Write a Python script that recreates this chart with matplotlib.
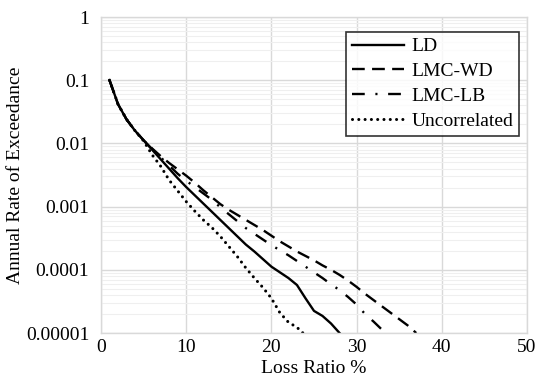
import matplotlib.pyplot as plt
from matplotlib.ticker import FixedLocator, FixedFormatter, LogLocator, NullFormatter
import numpy as np

plt.rcParams['font.family'] = ['Liberation Serif', 'DejaVu Serif']

# loss ratio (%) and log10 of annual rate of exceedance
x_ld = [1, 2, 3, 4, 5, 6, 7, 8, 9, 10, 11, 12, 13, 14, 15, 16, 17, 18, 19, 20,
        21, 22, 23, 24, 25, 26, 27, 28]
log_ld = [-1.0, -1.38, -1.62, -1.80, -1.95, -2.10, -2.25, -2.40, -2.55, -2.69,
          -2.82, -2.95, -3.08, -3.21, -3.34, -3.47, -3.60, -3.71, -3.83, -3.95,
          -4.04, -4.13, -4.24, -4.45, -4.65, -4.73, -4.85, -5.0]

x_wd = list(range(1, 38))
log_wd = [-1.0, -1.38, -1.62, -1.80, -1.95, -2.08, -2.20, -2.31, -2.41, -2.51,
          -2.62, -2.74, -2.85, -2.96, -3.05, -3.13, -3.21, -3.29, -3.37, -3.46,
          -3.55, -3.63, -3.71, -3.78, -3.85, -3.93, -4.0, -4.08, -4.17, -4.27,
          -4.38, -4.48, -4.58, -4.68, -4.78, -4.88, -5.0]

x_lb = list(range(1, 34)) + [33.5]
log_lb = [-1.0, -1.38, -1.62, -1.80, -1.95, -2.09, -2.22, -2.35, -2.48, -2.59,
          -2.69, -2.79, -2.89, -3.01, -3.12, -3.23, -3.34, -3.43, -3.52, -3.61,
          -3.69, -3.77, -3.86, -3.95, -4.04, -4.13, -4.23, -4.32, -4.43, -4.55,
          -4.70, -4.82, -4.95, -5.0]

x_un = list(range(1, 24)) + [23.7]
log_un = [-1.0, -1.38, -1.62, -1.80, -1.96, -2.18, -2.36, -2.58, -2.75, -2.92,
          -3.07, -3.21, -3.33, -3.47, -3.63, -3.79, -3.97, -4.13, -4.28, -4.45,
          -4.68, -4.83, -4.91, -5.0]

y_ticks = [1, 0.1, 0.01, 0.001, 0.0001, 0.00001]
y_labels = ['1', '0.1', '0.01', '0.001', '0.0001', '0.00001']

fig = plt.figure(figsize=(5.43, 3.87), dpi=100)
ax = fig.add_axes([0.186, 0.1395, 0.7845, 0.8165])

lw = 1.7
fs = 14
ax.plot(x_ld, 10 ** np.array(log_ld), color='black', lw=lw, label='LD')
ax.plot(x_wd, 10 ** np.array(log_wd), color='black', lw=lw,
        linestyle=(0, (5.4, 3.1)), label='LMC-WD')
ax.plot(x_lb, 10 ** np.array(log_lb), color='black', lw=lw,
        linestyle=(0, (5.4, 4.5, 0.9, 4.5)), label='LMC-LB')
ax.plot(x_un, 10 ** np.array(log_un), color='black', lw=2.2,
        linestyle=(0, (0.01, 2.05)), dash_capstyle='round', label='Uncorrelated')

ax.set_yscale('log')
ax.set_xlim(0, 50)
ax.set_ylim(1e-5, 1)
ax.set_xticks([0, 10, 20, 30, 40, 50])
ax.yaxis.set_major_locator(FixedLocator(y_ticks))
ax.yaxis.set_major_formatter(FixedFormatter(y_labels))
ax.yaxis.set_minor_locator(LogLocator(base=10, subs=np.arange(2, 10)))
ax.yaxis.set_minor_formatter(NullFormatter())

ax.grid(True, which='major', color='#d9d9d9', lw=1.0)
ax.grid(True, which='minor', axis='y', color='#efefef', lw=0.8)
ax.set_axisbelow(True)
for s in ax.spines.values():
    s.set_color('#d9d9d9')
    s.set_linewidth(1.0)

ax.tick_params(which='both', length=0, labelsize=fs)
ax.tick_params(axis='y', pad=8.5)
ax.tick_params(axis='x', pad=4)

ax.set_xlabel('Loss Ratio %', fontsize=fs, labelpad=3)
ax.set_ylabel('Annual Rate of Exceedance', fontsize=fs, labelpad=1.5)

leg = ax.legend(loc='upper right', bbox_to_anchor=(0.981, 0.953), borderaxespad=0,
                fontsize=fs, frameon=True, fancybox=False, handlelength=2.7,
                handletextpad=0.35, labelspacing=0.37, borderpad=0.3)
leg.get_frame().set_edgecolor('black')
leg.get_frame().set_linewidth(1.2)

fig.savefig('out.png', dpi=100)
